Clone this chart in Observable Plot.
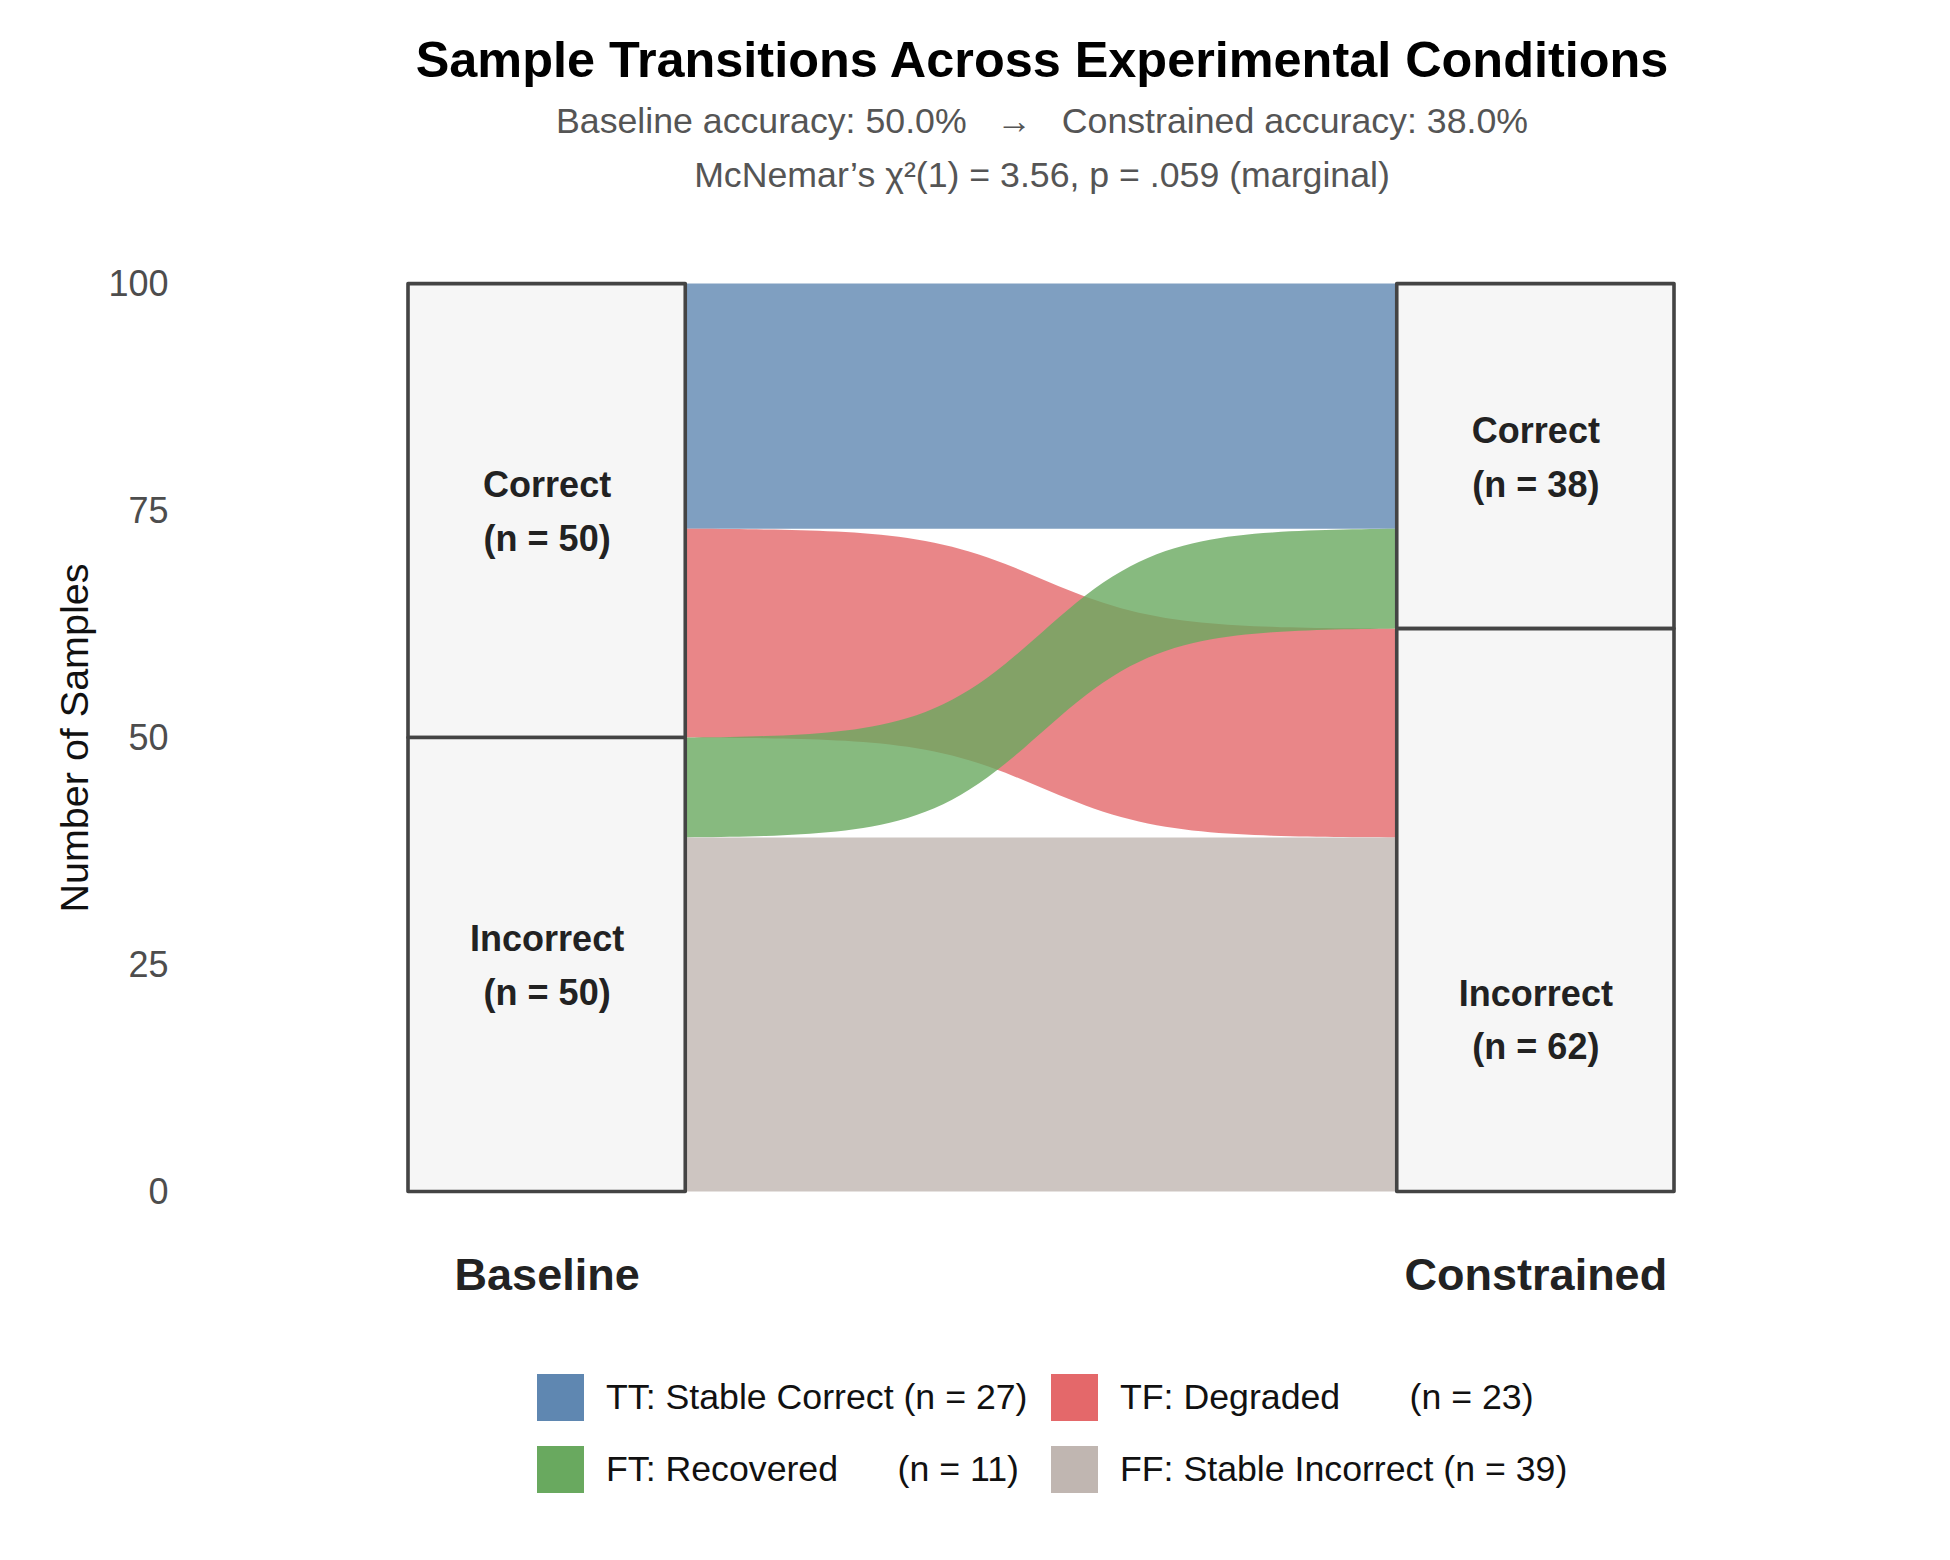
<!DOCTYPE html>
<html>
<head>
<meta charset="utf-8">
<script src="https://cdn.jsdelivr.net/npm/d3@7"></script>
<script src="https://cdn.jsdelivr.net/npm/@observablehq/plot@0.6"></script>
<style>
  body { margin: 0; background: #fff; font-family: "Liberation Sans", Arial, Helvetica, sans-serif; }
  #wrap { position: relative; width: 1950px; height: 1560px; background: #fff; overflow: hidden; }
  #head { position: relative; height: 220px; }
  .hl { position: absolute; left: 342px; width: 1400px; text-align: center; white-space: pre; }
  #chart svg { display: block; }
  #legend { position: relative; height: 230px; }
  .item { position: absolute; display: flex; align-items: center; height: 48px; }
  .sw { width: 47px; height: 47px; margin-right: 22px; }
  .lt { font-size: 35.7px; color: #111; white-space: pre; }
</style>
</head>
<body>
<div id="wrap">
  <div id="head">
    <div class="hl" style="top:30px;height:60px;line-height:60px;font-size:50.4px;font-weight:bold;color:#000;">Sample Transitions Across Experimental Conditions</div>
    <div class="hl" style="top:99px;height:44px;line-height:44px;font-size:35.7px;color:#555;">Baseline accuracy: 50.0%   →   Constrained accuracy: 38.0%</div>
    <div class="hl" style="top:153px;height:44px;line-height:44px;font-size:35.7px;color:#555;">McNemar’s χ²(1) = 3.56, p = .059 (marginal)</div>
  </div>
  <div id="chart"></div>
  <div id="legend"></div>
</div>
<script>
// ---- data ----
const conditions = ["Baseline", "Constrained"];
const states = ["Correct", "Incorrect"];
const baselineCounts = [50, 50];      // Correct, Incorrect
const constrainedCounts = [38, 62];   // Correct, Incorrect
const flowCodes = ["TT", "TF", "FT", "FF"];
const flowNames = ["Stable Correct", "Degraded", "Recovered", "Stable Incorrect"];
const flowFrom = ["Correct", "Correct", "Incorrect", "Incorrect"];
const flowTo = ["Correct", "Incorrect", "Correct", "Incorrect"];
const flowCounts = [27, 23, 11, 39];
const flowColors = ["#5f87b1", "#e4686a", "#69a95f", "#c0b6b1"];
const yTicks = [0, 25, 50, 75, 100];

// ---- sigmoid curve (logistic over [-6, 6], like an alluvial sigmoid ribbon) ----
function SigmoidCurve(context) { this._context = context; }
SigmoidCurve.prototype = {
  areaStart() { this._line = 0; },
  areaEnd() { this._line = NaN; },
  lineStart() { this._point = 0; },
  lineEnd() {
    if (this._line || (this._line !== 0 && this._point === 1)) this._context.closePath();
    this._line = 1 - this._line;
  },
  point(x, y) {
    x = +x; y = +y;
    if (this._point === 0) {
      this._point = 1;
      this._line ? this._context.lineTo(x, y) : this._context.moveTo(x, y);
    } else {
      this._point = 2;
      const R = 6, N = 80;
      const s = v => 1 / (1 + Math.exp(-v));
      const s0 = s(-R), s1 = s(R);
      for (let k = 1; k <= N; ++k) {
        const t = k / N;
        const f = (s(-R + 2 * R * t) - s0) / (s1 - s0);
        this._context.lineTo(this._x0 + (x - this._x0) * t, this._y0 + (y - this._y0) * f);
      }
    }
    this._x0 = x; this._y0 = y;
  }
};
const curveSigmoid = context => new SigmoidCurve(context);

// ---- derived ----
const total = d3.sum(baselineCounts);
const boxW = 0.219;
const condX1 = [0, 1 - boxW];
const condX2 = [boxW, 1];
const countsByCond = [baselineCounts, constrainedCounts];

const nodes = [];
conditions.forEach((c, ci) => {
  let top = total;
  states.forEach((s, si) => {
    const n = countsByCond[ci][si];
    nodes.push({cond: c, ci, state: s, n, y2: top, y1: top - n});
    top -= n;
  });
});
nodes.forEach(d => {
  const correct = nodes.find(e => e.ci === d.ci && e.state === "Correct");
  const cMid = (correct.y1 + correct.y2) / 2;
  d.ly = d.state === "Correct" ? cMid : total - cMid;
  d.label = `${d.state}\n(n = ${d.n})`;
});

const idx = flowCodes.map((_, i) => i);
const si = s => states.indexOf(s);
const leftOrder = idx.slice().sort((a, b) => d3.ascending(si(flowFrom[a]), si(flowFrom[b])) || d3.ascending(si(flowTo[a]), si(flowTo[b])));
const rightOrder = idx.slice().sort((a, b) => d3.ascending(si(flowTo[a]), si(flowTo[b])) || d3.ascending(si(flowFrom[a]), si(flowFrom[b])));
const leftPos = {}, rightPos = {};
{ let t = total; for (const i of leftOrder) { leftPos[i] = [t - flowCounts[i], t]; t -= flowCounts[i]; } }
{ let t = total; for (const i of rightOrder) { rightPos[i] = [t - flowCounts[i], t]; t -= flowCounts[i]; } }
const ribbons = [];
idx.forEach(i => {
  ribbons.push({flow: flowCodes[i], x: condX2[0], y1: leftPos[i][0], y2: leftPos[i][1]});
  ribbons.push({flow: flowCodes[i], x: condX1[1], y1: rightPos[i][0], y2: rightPos[i][1]});
});

const chart = Plot.plot({
  width: 1950,
  height: 1110,
  marginTop: 63.6,
  marginBottom: 138.5,
  marginLeft: 408,
  marginRight: 276,
  style: {fontFamily: "'Liberation Sans', Arial, Helvetica, sans-serif", background: "#fff"},
  x: {domain: [0, 1], axis: null},
  y: {domain: [0, total], axis: null},
  color: {domain: flowCodes, range: flowColors},
  marks: [
    Plot.axisY({ticks: yTicks, tickSize: 0, tickPadding: 240, fontSize: 36, color: "#4d4d4d", label: null}),
    Plot.text(["Number of Samples"], {frameAnchor: "left", textAnchor: "middle", lineAnchor: "middle", dx: -333, rotate: -90, fontSize: 39.5, fill: "#111"}),
    Plot.areaY(ribbons, {x: "x", y1: "y1", y2: "y2", z: "flow", fill: "flow", fillOpacity: 0.8, curve: curveSigmoid}),
    Plot.rect(nodes, {x1: d => condX1[d.ci], x2: d => condX2[d.ci], y1: "y1", y2: "y2", fill: "#f6f6f6", stroke: "#444", strokeWidth: 3.6, strokeLinejoin: "round"}),
    Plot.text(nodes, {x: d => (condX1[d.ci] + condX2[d.ci]) / 2, y: "ly", text: "label", dy: -4, fontSize: 36, fontWeight: "bold", fill: "#222", lineHeight: 1.49}),
    Plot.text(conditions, {x: (d, i) => (condX1[i] + condX2[i]) / 2, frameAnchor: "bottom", lineAnchor: "middle", dy: 83.5, fontSize: 45, fontWeight: "bold", fill: "#222"})
  ]
});
document.getElementById("chart").appendChild(chart);

// ---- legend (2 columns, filled by row) ----
const legend = document.getElementById("legend");
const colLeft = [537, 1051];
const rowY = [67, 139];
const labelWidth = 18;
const names = idx.map(i => `${flowCodes[i]}: ${flowNames[i]}`);
idx.forEach(i => {
  const c = i % 2, r = Math.floor(i / 2);
  const div = document.createElement("div");
  div.className = "item";
  div.style.left = colLeft[c] + "px";
  div.style.top = (rowY[r] - 24) + "px";
  const sw = document.createElement("div");
  sw.className = "sw";
  sw.style.background = flowColors[i];
  const t = document.createElement("span");
  t.className = "lt";
  t.textContent = names[i].padEnd(labelWidth) + ` (n = ${flowCounts[i]})`;
  div.appendChild(sw); div.appendChild(t);
  legend.appendChild(div);
});
</script>
</body>
</html>
